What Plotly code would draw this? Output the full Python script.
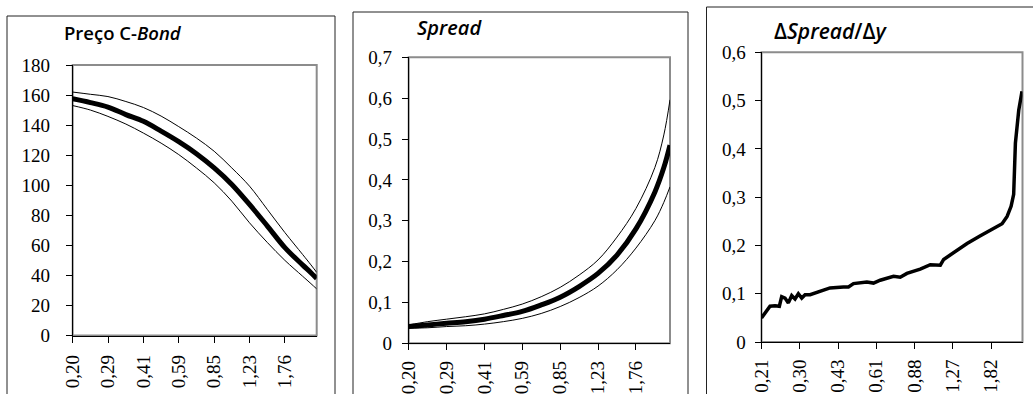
import math
import plotly.graph_objects as go

# ---------------- data ----------------
x_bond = [0.200, 0.240, 0.287, 0.345, 0.413, 0.495, 0.593, 0.711, 0.853, 1.022, 1.225, 1.469, 1.761, 2.110, 2.300, 2.440]
price_mid = [157.5, 155.0, 152.0, 147.0, 142.5, 136.0, 129.0, 121.0, 111.5, 100.5, 87.2, 73.0, 58.5, 47.0, 41.8, 38.0]
price_up = [162.0, 160.5, 159.0, 155.7, 151.7, 146.0, 139.0, 131.4, 122.6, 111.5, 99.4, 84.0, 68.5, 54.0, 47.0, 42.0]
price_lo = [153.0, 150.0, 145.8, 140.7, 134.7, 128.0, 120.4, 111.5, 101.6, 89.4, 75.0, 62.0, 50.0, 39.5, 34.5, 31.0]

spread_mid = [0.041, 0.045, 0.049, 0.053, 0.059, 0.068, 0.078, 0.094, 0.113, 0.139, 0.171, 0.216, 0.280, 0.370, 0.430, 0.485]
spread_up = [0.045, 0.053, 0.059, 0.065, 0.072, 0.083, 0.096, 0.114, 0.137, 0.167, 0.204, 0.260, 0.330, 0.430, 0.510, 0.596]
spread_lo = [0.037, 0.038, 0.041, 0.043, 0.047, 0.053, 0.061, 0.073, 0.090, 0.112, 0.140, 0.180, 0.233, 0.300, 0.345, 0.383]

x_dspread = [0.210, 0.2275, 0.2385, 0.2484, 0.2539, 0.262, 0.2704, 0.279, 0.2879, 0.297, 0.3066, 0.3164,
             0.3317, 0.3643, 0.4002, 0.4538, 0.4759, 0.4988, 0.5658, 0.6022, 0.6414, 0.727, 0.7744,
             0.8246, 0.9346, 1.0275, 1.129, 1.165, 1.28, 1.452, 1.646, 1.866, 2.019, 2.116, 2.197,
             2.251, 2.288, 2.361, 2.435]
dspread = [0.050, 0.074, 0.075, 0.074, 0.094, 0.091, 0.081, 0.096, 0.089, 0.100, 0.091, 0.098,
           0.098, 0.105, 0.112, 0.114, 0.114, 0.121, 0.124, 0.122, 0.128, 0.136, 0.134,
           0.142, 0.151, 0.160, 0.159, 0.171, 0.186, 0.204, 0.220, 0.236, 0.245, 0.260, 0.281,
           0.306, 0.412, 0.480, 0.519]

bond_tickvals = [0.200, 0.2874, 0.4130, 0.5934, 0.8527, 1.2252, 1.7605]
bond_ticktext = ["0,20", "0,29", "0,41", "0,59", "0,85", "1,23", "1,76"]
ds_tickvals = [0.210, 0.3010, 0.4313, 0.6182, 0.8860, 1.2698, 1.8200]
ds_ticktext = ["0,21", "0,30", "0,43", "0,61", "0,88", "1,27", "1,82"]

titles = ["Preço C-<i>Bond</i>", "<i>Spread</i>", "Δ<i>Spread</i>/Δ<i>y</i>"]

# ---------------- figure ----------------
W, H = 1033, 394
def px(x):
    return x / W
def py(y):
    return 1 - y / H

fig = go.Figure()
thin = dict(color="black", width=1)
thick = dict(color="black", width=5)

fig.add_trace(go.Scatter(x=x_bond, y=price_up, mode="lines", line=dict(**thin, shape="spline"), xaxis="x", yaxis="y"))
fig.add_trace(go.Scatter(x=x_bond, y=price_lo, mode="lines", line=dict(**thin, shape="spline"), xaxis="x", yaxis="y"))
fig.add_trace(go.Scatter(x=x_bond, y=price_mid, mode="lines", line=dict(**thick, shape="spline"), xaxis="x", yaxis="y"))

fig.add_trace(go.Scatter(x=x_bond, y=spread_up, mode="lines", line=dict(**thin, shape="spline"), xaxis="x2", yaxis="y2"))
fig.add_trace(go.Scatter(x=x_bond, y=spread_lo, mode="lines", line=dict(**thin, shape="spline"), xaxis="x2", yaxis="y2"))
fig.add_trace(go.Scatter(x=x_bond, y=spread_mid, mode="lines", line=dict(**thick, shape="spline"), xaxis="x2", yaxis="y2"))

fig.add_trace(go.Scatter(x=x_dspread, y=dspread, mode="lines", line=dict(color="black", width=3.5), xaxis="x3", yaxis="y3"))

tickfont = dict(family="Liberation Serif", size=19, color="black")

def xax(domain, rng, tv, tt, standoff):
    return dict(domain=domain, type="log", range=[math.log10(rng[0]), math.log10(rng[1])],
                tickvals=tv, ticktext=tt, tickangle=-90, ticks="outside", ticklen=6,
                tickcolor="black", showline=True, linecolor="black", linewidth=1,
                showgrid=False, zeroline=False, tickfont=tickfont, ticklabelstandoff=standoff,
                automargin=False)

def yax(domain, rng, dtick, anchor, standoff):
    return dict(domain=domain, range=rng, dtick=dtick, tick0=0, ticks="outside", ticklen=6,
                tickcolor="black", showline=True, linecolor="black", linewidth=1,
                showgrid=False, zeroline=False, tickfont=tickfont, anchor=anchor,
                ticklabelstandoff=standoff, automargin=False)

fig.update_layout(
    template="none",
    width=W, height=H, margin=dict(l=0, r=0, t=0, b=0, autoexpand=False),
    paper_bgcolor="white", plot_bgcolor="white", showlegend=False,
    separators=", ",
    xaxis=xax([px(72.7), px(316.7)], [0.200, 2.44], bond_tickvals, bond_ticktext, 5) | dict(anchor="y"),
    yaxis=yax([py(335.5), py(65)], [0, 180], 20, "x", 12),
    xaxis2=xax([px(408.7), px(670)], [0.200, 2.44], bond_tickvals, bond_ticktext, 3) | dict(anchor="y2"),
    yaxis2=yax([py(343.3), py(57.3)], [0, 0.7], 0.1, "x2", 6),
    xaxis3=xax([px(761.5), px(1022.5)], [0.210, 2.446], ds_tickvals, ds_ticktext, 3) | dict(anchor="y3"),
    yaxis3=yax([py(342), py(52.3)], [0, 0.6], 0.1, "x3", 5),
)

shapes = []
# plot-area grey frames
for xr, yr in [("x domain", "y domain"), ("x2 domain", "y2 domain"), ("x3 domain", "y3 domain")]:
    shapes.append(dict(type="rect", xref=xr, yref=yr, x0=0, x1=1, y0=0, y1=1,
                       line=dict(color="#8c8c8c", width=2), layer="below"))
# outer chart boxes
for x0, x1, y0 in [(7, 335, 16), (353, 688, 12), (706.5, 1040, 7)]:
    shapes.append(dict(type="rect", xref="paper", yref="paper", x0=px(x0), x1=px(x1),
                       y0=py(y0), y1=py(420), line=dict(color="#222222", width=1)))
fig.update_layout(shapes=shapes)

for text, x0, yc, fs in zip(titles, [62, 415, 771.5], [33, 28, 31], [18.5, 20, 21]):
    fig.add_annotation(text=text, xref="paper", yref="paper", x=px(x0), y=py(yc),
                       xanchor="left", yanchor="middle", showarrow=False,
                       font=dict(family="Open Sans", size=fs, color="black", weight=600))

fig.write_html("out.html", config={"displayModeBar": False},
               post_script="document.body.style.margin='0';document.body.style.overflow='hidden';")
